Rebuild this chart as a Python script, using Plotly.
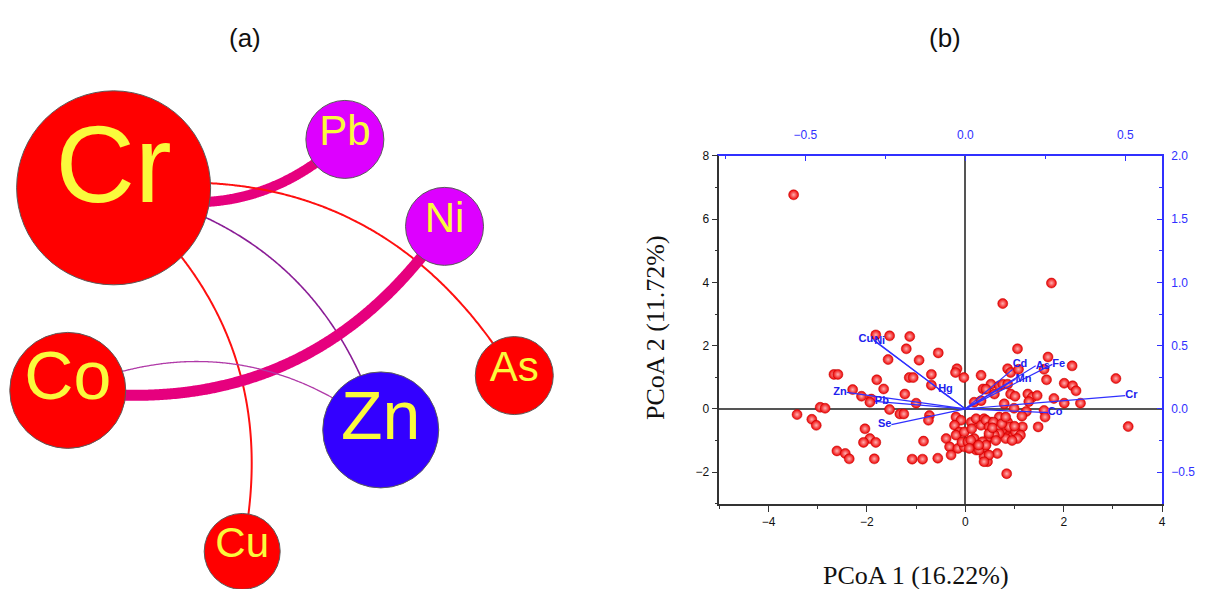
import numpy as np
import plotly.graph_objects as go

# ---------------- Panel (a): correlation network ----------------
node_names = ["Cr", "Pb", "Ni", "As", "Co", "Zn", "Cu"]
node_x = [114, 346, 446, 516, 68, 382, 243]
node_y = [183, 134, 222, 373, 388, 428, 551]
node_radius = [97, 39, 39, 39, 58, 58, 38]
node_colors = ["#ff0000", "#dd00ff", "#dd00ff", "#ff0000", "#ff0000", "#3300ff", "#ff0000"]
label_sizes = [110, 42, 42, 42, 68, 68, 42]

edge_source = ["Cr", "Cr", "Cr", "Cr", "Co", "Co"]
edge_target = ["Pb", "As", "Zn", "Cu", "Ni", "Zn"]
edge_width = [10, 2, 1.6, 2, 11, 1.3]
edge_color = ["#e6007e", "#ff1010", "#8a1d96", "#ff1010", "#e6007e", "#b03aa8"]
edge_bend = [0.30, -0.33, -0.30, -0.30, 0.31, -0.30]

# ---------------- Panel (b): PCoA biplot ----------------
sample_x = [
    -3.49, 0.76, 1.75,
    -1.82, -1.54, -1.13, -1.20, -0.55, -1.57, -0.94,
    -2.67, -2.59, -1.80, -1.14, -1.06, -0.69, -0.69,
    -1.66, -2.29, -1.23, -2.11, -1.91, -1.94, -1.00,
    -1.54, -2.95, -2.85, -3.42, -3.12, -3.03,
    -1.33, -1.25, -0.73, -0.75, -2.04,
    -1.94, -2.07, -1.82, -2.61, -2.44, -2.36, -1.85,
    -1.08, -0.87, -0.56, -0.85,
    -0.17, -0.20, -0.03, 0.32,
    -0.19, -0.09, -0.39, -0.32, -0.29, -0.22, -0.12, -0.19, -0.02, -0.15, -0.02, -0.07,
    0.36, 0.52, 0.59, 0.18, 0.42, 0.32,
    0.12, 0.22, 0.38, 0.52, 0.05, 0.18, 0.25, 0.42, 0.48, 0.38, 0.22, 0.38, 0.45,
    1.06, 1.68, 2.17, 0.86, 0.92, 1.08, 1.60, 1.65, 2.01, 2.18, 2.25, 3.06, 3.31, 2.34, 1.80, 2.01,
    1.27, 1.36, 1.46, 0.92, 1.01, 0.79, 0.99, 1.29, 1.24, 1.60, 1.62, 1.15, 1.16, 1.48,
    0.69, 0.86, 0.89, 0.76, 0.86, 0.96, 1.06, 0.65, 0.84, 0.69, 0.76, 0.86,
    0.13, 0.32, 0.42, 0.48, 0.57, 0.74, 0.82, 1.02, 1.12, 1.06, 0.82, 0.69, 0.59, 0.48,
    0.35, 0.11, 0.08, 0.28, 0.42, 0.48, 0.27, 0.38, 0.55, 0.62, 0.95, 1.00,
]
sample_y = [
    6.77, 3.33, 3.98,
    2.34, 2.31, 2.29, 1.90, 1.77, 1.56, 1.54,
    1.09, 1.09, 0.92, 0.99, 0.99, 1.09, 0.75,
    0.63, 0.61, 0.47, 0.40, 0.31, 0.21, 0.18,
    -0.02, 0.05, 0.02, -0.18, -0.33, -0.52,
    -0.16, -0.16, -0.21, -0.36, -0.63,
    -0.94, -1.06, -1.06, -1.33, -1.41, -1.58, -1.58,
    -1.59, -1.59, -1.56, -1.02,
    1.27, 1.15, 0.99, 1.06,
    -0.26, -0.36, -0.94, -1.20, -1.46, -0.52, -0.73, -0.83, -0.73, -1.25, -1.20, -1.05,
    0.63, 0.78, 0.47, 0.21, 0.62, 0.26,
    -0.42, -0.31, -0.31, -0.42, -1.04, -0.94, -1.14, -1.04, -0.88, -1.25, -1.30, -1.51, -1.67,
    1.90, 1.64, 1.36, 1.27, 1.15, 1.25, 1.25, 0.92, 0.81, 0.73, 0.57, 0.96, -0.56, 0.18, 0.33, 0.18,
    0.47, 0.37, 0.42, 0.47, 0.40, 0.16, 0.02, 0.23, -0.08, -0.05, -0.26, -0.23, -0.57, -0.57,
    -0.26, -0.42, -0.57, -0.78, -0.88, -0.88, -0.88, -1.41, -2.05, 0.73, 0.78, 0.78,
    -0.63, -0.52, -0.36, -0.57, -0.42, -0.47, -0.26, -0.73, -0.83, -0.94, -0.94, -0.78, -0.83, -0.78,
    -1.04, -0.99, -1.25, -1.30, -1.15, -1.46, -1.15, -1.67, -0.60, -1.00, -1.00, -0.55,
]

vector_names = ["Cr", "Co", "Fe", "As", "Cd", "Mn", "Hg", "Cu", "Ni", "Zn", "Pb", "Se"]
vector_x = [0.500, 0.258, 0.272, 0.220, 0.148, 0.157, -0.085, -0.288, -0.285, -0.371, -0.283, -0.231]
vector_y = [0.105, -0.030, 0.352, 0.340, 0.312, 0.235, 0.155, 0.548, 0.538, 0.130, 0.060, -0.125]
vector_label_pos = ["middle right", "middle right", "middle right", "middle right", "top right",
                    "middle right", "middle right", "middle left", "middle right", "middle left",
                    "middle right", "middle left"]

x_ticks = [-4, -2, 0, 2, 4]
y_ticks = [-2, 0, 2, 4, 6, 8]
x2_ticks = [-0.5, 0.0, 0.5]
y2_ticks = [-0.5, 0.0, 0.5, 1.0, 1.5, 2.0]

x_title = "PCoA 1 (16.22%)"
y_title = "PCoA 2 (11.72%)"

W, H = 1211, 589
SANS = "Liberation Sans, Arial, sans-serif"
SERIF = "Liberation Serif, Times New Roman, serif"
BLUE = "#3030ff"

fig = go.Figure()

# ---- network edges (quadratic Bezier curves) ----
pos = {n: (x, y) for n, x, y in zip(node_names, node_x, node_y)}
t = np.linspace(0, 1, 200)
for s, d, w, c, k in zip(edge_source, edge_target, edge_width, edge_color, edge_bend):
    p0 = np.array(pos[s], float)
    p2 = np.array(pos[d], float)
    dv = p2 - p0
    L = np.hypot(*dv)
    nrm = np.array([-dv[1], dv[0]]) / L
    p1 = (p0 + p2) / 2 + k * L * nrm
    bx = (1 - t) ** 2 * p0[0] + 2 * t * (1 - t) * p1[0] + t ** 2 * p2[0]
    by = (1 - t) ** 2 * p0[1] + 2 * t * (1 - t) * p1[1] + t ** 2 * p2[1]
    fig.add_trace(go.Scatter(x=bx, y=by, mode="lines", xaxis="x3", yaxis="y3",
                             line=dict(color=c, width=w, simplify=False, shape="spline"),
                             hoverinfo="skip"))

# ---- network nodes ----
fig.add_trace(go.Scatter(
    x=node_x, y=node_y, mode="markers", xaxis="x3", yaxis="y3",
    marker=dict(size=[2 * r for r in node_radius], color=node_colors,
                line=dict(color="#5a5a5a", width=1), opacity=1),
    hoverinfo="skip"))
fig.add_trace(go.Scatter(
    x=node_x, y=[y - 0.12 * s for y, s in zip(node_y, label_sizes)],
    mode="text", xaxis="x3", yaxis="y3", text=node_names,
    textposition="middle center",
    textfont=dict(family=SANS, size=label_sizes, color="#fafa3c"),
    hoverinfo="skip"))

# ---- PCoA samples ----
fig.add_trace(go.Scatter(
    x=sample_x, y=sample_y, mode="markers", xaxis="x", yaxis="y",
    marker=dict(size=10, color="#ee0000",
                gradient=dict(type="radial", color="#ffb0b0"),
                line=dict(color="#c00000", width=0.5)),
    hoverinfo="skip"))

# ---- biplot vectors ----
vx, vy = [], []
for x, y in zip(vector_x, vector_y):
    vx += [0, x, None]
    vy += [0, y, None]
fig.add_trace(go.Scatter(x=vx, y=vy, mode="lines", xaxis="x2", yaxis="y2",
                         line=dict(color=BLUE, width=1.2), hoverinfo="skip"))
fig.add_trace(go.Scatter(
    x=vector_x, y=vector_y, mode="text", xaxis="x2", yaxis="y2",
    text=vector_names, textposition=vector_label_pos,
    textfont=dict(family=SANS, size=11, color="#2020ee", weight="bold"),
    hoverinfo="skip"))

x_dom = [721.7 / W, 1166 / W]
y_dom = [(H - 502.7) / H, (H - 150.7) / H]

axis_common = dict(showgrid=False, showline=True, linewidth=1.6)

fig.update_layout(
    width=W, height=H, autosize=False,
    margin=dict(l=0, r=0, t=0, b=0),
    paper_bgcolor="white", plot_bgcolor="white",
    showlegend=False, hovermode=False,
    xaxis=dict(domain=x_dom, range=[-5, 4], tickvals=x_ticks, ticks="outside", ticklen=6,
               tickwidth=1.2, tickcolor="#333", linecolor="#333",
               zeroline=True, zerolinecolor="#555", zerolinewidth=1.6,
               minor=dict(dtick=1, ticks="outside", ticklen=3, tickcolor="#333"),
               tickfont=dict(family=SANS, size=12, color="#111"), anchor="y",
               **axis_common),
    yaxis=dict(domain=y_dom, range=[-3, 8], tickvals=y_ticks, ticks="outside", ticklen=6,
               tickwidth=1.2, tickcolor="#333", linecolor="#333",
               zeroline=True, zerolinecolor="#555", zerolinewidth=1.6,
               minor=dict(dtick=1, ticks="outside", ticklen=3, tickcolor="#333"),
               tickfont=dict(family=SANS, size=12, color="#111"), anchor="x",
               **axis_common),
    xaxis2=dict(overlaying="x", side="top", anchor="y", range=[-5 / 6.5, 4 / 6.5],
                tickvals=x2_ticks, tickformat=".1f", ticks="inside", ticklen=5,
                tickcolor=BLUE, linecolor=BLUE, zeroline=False, ticklabelstandoff=10,
                minor=dict(dtick=0.25, ticks="inside", ticklen=3, tickcolor=BLUE),
                tickfont=dict(family=SANS, size=12, color=BLUE), **axis_common),
    yaxis2=dict(overlaying="y", side="right", anchor="x", range=[-0.75, 2.0],
                tickvals=y2_ticks, tickformat=".1f", ticks="inside", ticklen=5,
                tickcolor=BLUE, linecolor=BLUE, zeroline=False, ticklabelstandoff=5,
                minor=dict(dtick=0.25, ticks="inside", ticklen=3, tickcolor=BLUE),
                tickfont=dict(family=SANS, size=12, color=BLUE), **axis_common),
    xaxis3=dict(domain=[0, 600 / W], range=[0, 600], visible=False, anchor="y3"),
    yaxis3=dict(domain=[0, 1], range=[H, 0], visible=False, anchor="x3"),
    annotations=[
        dict(text="(a)", x=246 / W, y=(H - 31) / H, xref="paper", yref="paper",
             xanchor="center", yanchor="middle",
             showarrow=False, font=dict(family=SANS, size=26, color="#111")),
        dict(text="(b)", x=948 / W, y=(H - 31) / H, xref="paper", yref="paper",
             xanchor="center", yanchor="middle",
             showarrow=False, font=dict(family=SANS, size=26, color="#111")),
        dict(text=x_title, x=919 / W, y=(H - 575) / H, xref="paper", yref="paper",
             xanchor="center", yanchor="middle",
             showarrow=False, font=dict(family=SERIF, size=26, color="#111")),
        dict(text=y_title, x=657 / W, y=(H - 324) / H, xref="paper", yref="paper",
             xanchor="center", yanchor="middle",
             showarrow=False, textangle=-90, font=dict(family=SERIF, size=26, color="#111")),
    ],
)

fig.write_html("out.html")
